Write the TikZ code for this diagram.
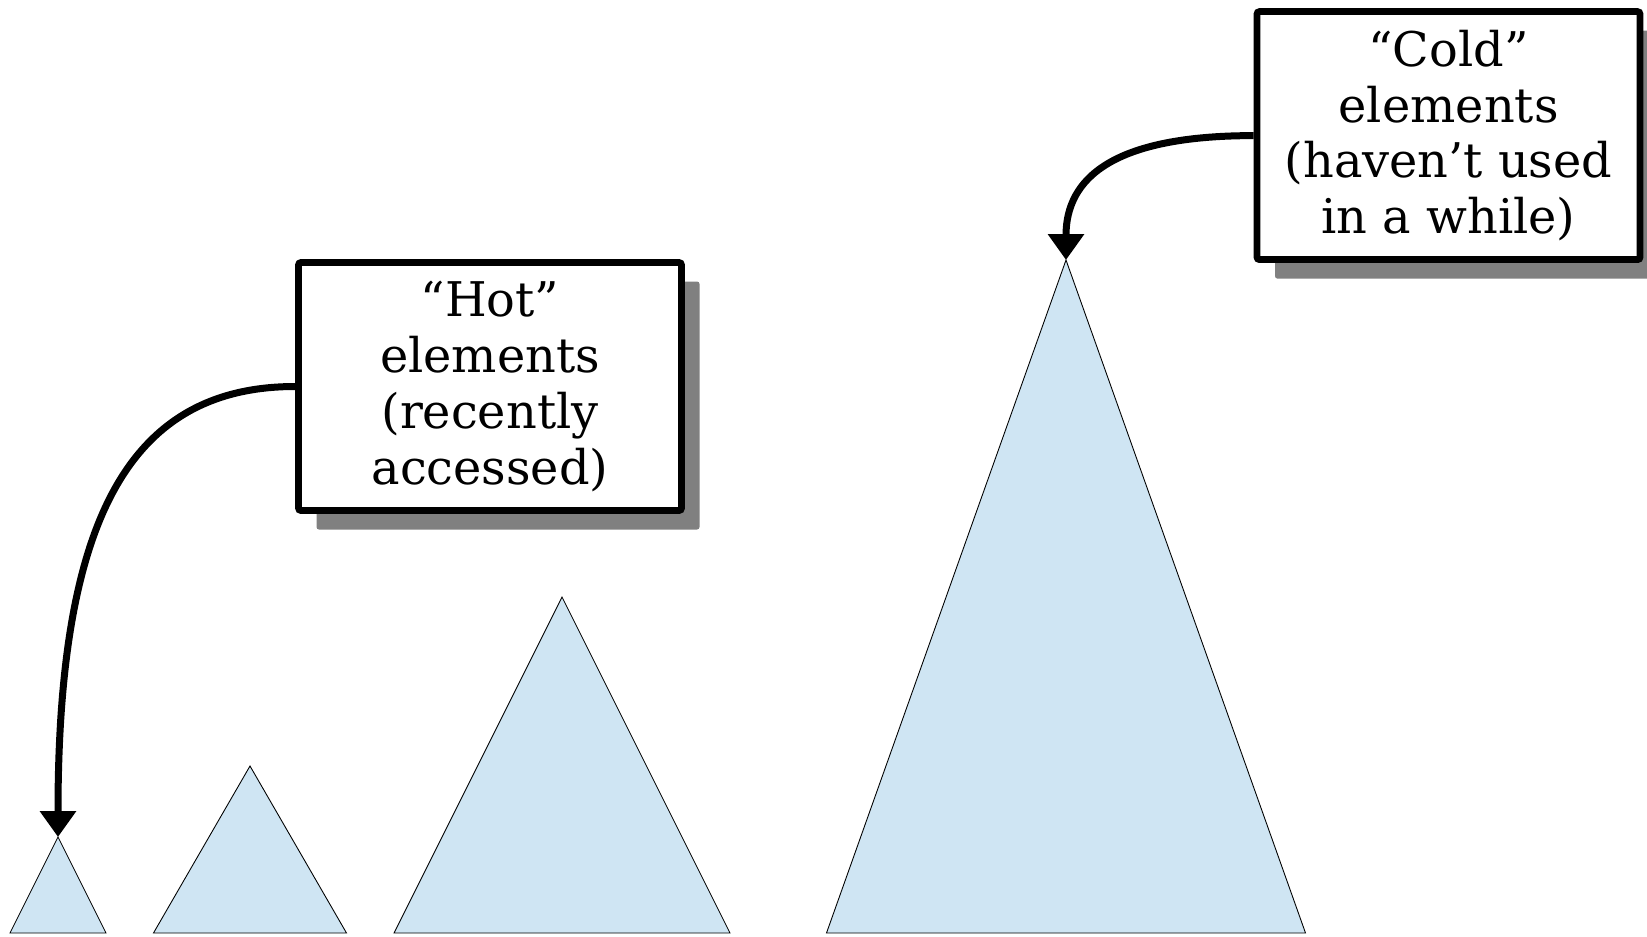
\documentclass[tikz,border=0pt]{standalone}
\usepackage{fontspec}
\setmainfont{DejaVu Serif}
\usetikzlibrary{arrows.meta,shadows}
\definecolor{heapblue}{RGB}{207,229,243}

\begin{document}
\begin{tikzpicture}[x=0.2mm, y=-0.2mm,
    heap/.style={fill=heapblue, draw=black, line width=0.5pt, line join=miter},
    tagbox/.style={draw, line width=1.35mm, fill=white, rounded corners=0.5mm,
      minimum width=76.6mm, minimum height=49.6mm, align=center,
      font=\fontsize{27.2}{31.8}\selectfont,
      drop shadow={shadow xshift=3.6mm, shadow yshift=-3.8mm, fill=gray, opacity=1}},
    pointer/.style={line width=1.4mm, -{Triangle[length=5.2mm, width=7mm]}}]
      \useasboundingbox (0,0) rectangle (1647,936);
      % the heaps, smallest first
      \foreach \n/\x/\top/\half in {1/58/837/48, 2/250/766/96.5, 3/562/597/168, 4/1066/260/239.5} {
        \coordinate (T\n) at (\x,\top);
        \draw[heap] (\x-\half,933) -- (T\n) -- (\x+\half,933) -- cycle;
      }
      \node[tagbox] (hot) at (490,386.5) {“Hot”\\elements\\(recently\\accessed)};
      \node[tagbox] (cold) at (1448.5,135.6) {“Cold”\\elements\\(haven’t used\\in a while)};
      \draw[pointer] (hot.west) .. controls (126,386.5) and (58,525) .. (T1);
      \draw[pointer] (cold.west) .. controls (1113,135.6) and (1066,178) .. (T4);
\end{tikzpicture}
\end{document}
